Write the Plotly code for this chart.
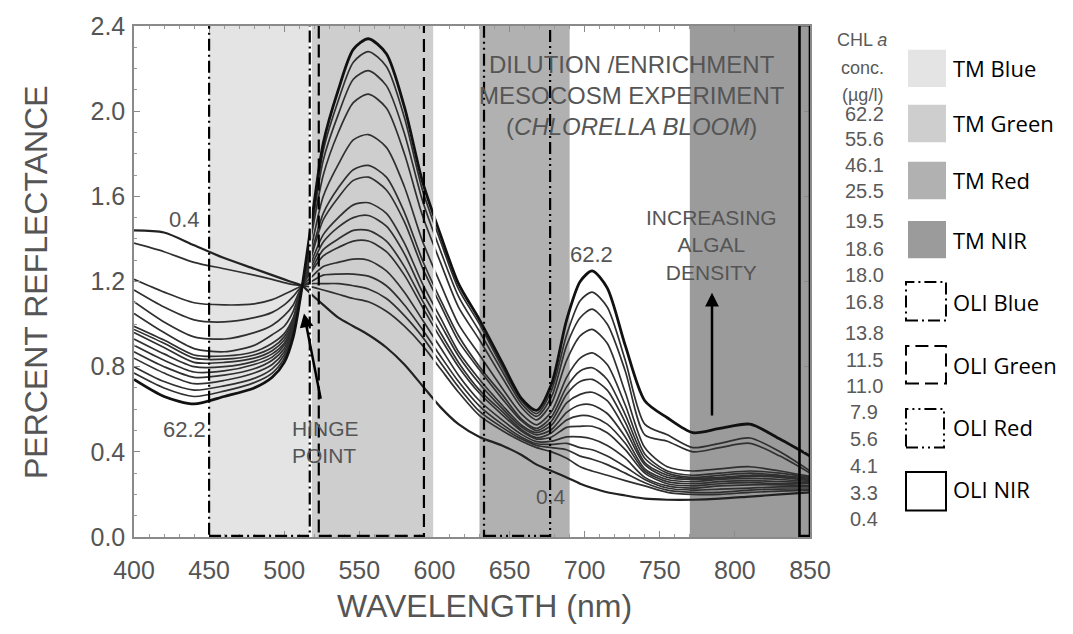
import plotly.graph_objects as go

# ---------------- DATA ----------------
WAVELENGTH_NM = [400, 420, 440, 460, 480, 492, 500, 506, 512, 518, 526, 536, 546, 556,
                 568, 580, 592, 604, 616, 630, 645, 658, 668, 678, 688, 697, 705, 715,
                 727, 740, 755, 772, 790, 810, 830, 850]

CHL_CONC = ["62.2", "55.6", "46.1", "25.5", "19.5", "18.6", "18.0", "16.8",
            "13.8", "11.5", "11.0", "7.9", "5.6", "4.1", "3.3", "0.4"]

R_62_2 = [0.74, 0.66, 0.625, 0.66, 0.70, 0.75, 0.82, 0.94, 1.18, 1.47, 1.85, 2.10, 2.29, 2.34,
          2.27, 2.02, 1.67, 1.42, 1.19, 1.02, 0.82, 0.65, 0.595, 0.72, 1.02, 1.20, 1.25, 1.17,
          0.90, 0.64, 0.56, 0.49, 0.51, 0.53, 0.46, 0.38]
R_55_6 = [0.77, 0.70, 0.66, 0.685, 0.725, 0.77, 0.84, 0.955, 1.18, 1.455, 1.815, 2.05, 2.23, 2.28,
          2.21, 1.97, 1.63, 1.39, 1.165, 1.00, 0.80, 0.64, 0.58, 0.69, 0.95, 1.11, 1.15, 1.08,
          0.83, 0.53, 0.48, 0.42, 0.44, 0.465, 0.40, 0.31]
R_46_1 = [0.80, 0.73, 0.69, 0.71, 0.745, 0.79, 0.855, 0.965, 1.18, 1.435, 1.77, 1.985, 2.15, 2.19,
          2.12, 1.895, 1.58, 1.345, 1.13, 0.965, 0.78, 0.626, 0.567, 0.66, 0.90, 1.03, 1.07, 1.00,
          0.78, 0.48, 0.45, 0.40, 0.42, 0.44, 0.38, 0.30]
R_25_5 = [0.84, 0.77, 0.72, 0.735, 0.77, 0.81, 0.87, 0.975, 1.18, 1.41, 1.70, 1.90, 2.04, 2.08,
          2.015, 1.80, 1.51, 1.29, 1.08, 0.925, 0.75, 0.608, 0.55, 0.63, 0.83, 0.945, 0.975, 0.91,
          0.68, 0.42, 0.33, 0.31, 0.32, 0.33, 0.31, 0.285]
R_19_5 = [0.87, 0.80, 0.75, 0.76, 0.79, 0.83, 0.885, 0.985, 1.18, 1.36, 1.60, 1.75, 1.865, 1.89,
          1.83, 1.645, 1.39, 1.19, 1.00, 0.855, 0.70, 0.577, 0.527, 0.59, 0.75, 0.84, 0.865, 0.81,
          0.62, 0.39, 0.31, 0.29, 0.30, 0.31, 0.30, 0.28]
R_18_6 = [0.90, 0.83, 0.775, 0.78, 0.81, 0.845, 0.90, 0.995, 1.18, 1.33, 1.52, 1.64, 1.725, 1.745,
          1.69, 1.525, 1.30, 1.115, 0.945, 0.80, 0.67, 0.554, 0.51, 0.565, 0.705, 0.78, 0.795, 0.74,
          0.575, 0.37, 0.30, 0.28, 0.29, 0.30, 0.29, 0.275]
R_18_0 = [0.93, 0.86, 0.80, 0.80, 0.825, 0.86, 0.91, 1.00, 1.18, 1.315, 1.49, 1.595, 1.675, 1.69,
          1.63, 1.48, 1.265, 1.09, 0.92, 0.785, 0.65, 0.545, 0.50, 0.545, 0.67, 0.73, 0.74, 0.69,
          0.54, 0.35, 0.29, 0.275, 0.28, 0.29, 0.285, 0.27]
R_16_8 = [0.96, 0.89, 0.82, 0.82, 0.84, 0.875, 0.925, 1.01, 1.18, 1.29, 1.42, 1.50, 1.56, 1.57,
          1.52, 1.38, 1.19, 1.03, 0.87, 0.74, 0.62, 0.525, 0.49, 0.525, 0.63, 0.67, 0.68, 0.64,
          0.505, 0.34, 0.28, 0.27, 0.275, 0.285, 0.28, 0.265]
R_13_8 = [0.975, 0.91, 0.84, 0.835, 0.855, 0.89, 0.94, 1.02, 1.18, 1.27, 1.385, 1.455, 1.50, 1.51,
          1.46, 1.33, 1.15, 1.00, 0.85, 0.72, 0.605, 0.516, 0.48, 0.505, 0.585, 0.62, 0.62, 0.58,
          0.47, 0.32, 0.27, 0.26, 0.27, 0.275, 0.27, 0.26]
R_11_5 = [0.99, 0.925, 0.855, 0.85, 0.87, 0.91, 0.955, 1.03, 1.18, 1.255, 1.35, 1.40, 1.44, 1.44,
          1.39, 1.27, 1.11, 0.96, 0.82, 0.69, 0.59, 0.504, 0.467, 0.49, 0.55, 0.57, 0.565, 0.53,
          0.44, 0.31, 0.26, 0.25, 0.26, 0.265, 0.26, 0.255]
R_11_0 = [1.05, 0.96, 0.885, 0.87, 0.90, 0.95, 0.99, 1.06, 1.18, 1.245, 1.32, 1.36, 1.39, 1.39,
          1.34, 1.23, 1.08, 0.935, 0.80, 0.675, 0.575, 0.496, 0.46, 0.47, 0.515, 0.52, 0.52, 0.49,
          0.41, 0.30, 0.25, 0.24, 0.25, 0.255, 0.25, 0.25]
R_7_9 = [1.105, 1.01, 0.94, 0.93, 0.96, 0.995, 1.04, 1.09, 1.18, 1.22, 1.27, 1.29, 1.305, 1.30,
         1.25, 1.15, 1.02, 0.89, 0.76, 0.64, 0.55, 0.482, 0.448, 0.45, 0.47, 0.47, 0.46, 0.43,
         0.37, 0.28, 0.24, 0.23, 0.24, 0.245, 0.245, 0.24]
R_5_6 = [1.16, 1.08, 1.02, 1.01, 1.03, 1.055, 1.09, 1.13, 1.18, 1.20, 1.23, 1.235, 1.235, 1.225,
         1.18, 1.09, 0.975, 0.85, 0.73, 0.615, 0.53, 0.469, 0.438, 0.435, 0.44, 0.42, 0.41, 0.38,
         0.33, 0.27, 0.23, 0.22, 0.225, 0.23, 0.235, 0.235]
R_4_1 = [1.21, 1.15, 1.10, 1.09, 1.095, 1.115, 1.14, 1.16, 1.18, 1.19, 1.19, 1.19, 1.18, 1.165,
         1.12, 1.04, 0.94, 0.82, 0.705, 0.59, 0.515, 0.46, 0.43, 0.42, 0.41, 0.38, 0.365, 0.34,
         0.30, 0.255, 0.22, 0.21, 0.21, 0.22, 0.225, 0.225]
R_3_3 = [1.38, 1.34, 1.29, 1.26, 1.23, 1.21, 1.195, 1.185, 1.18, 1.175, 1.16, 1.14, 1.12, 1.105,
         1.06, 0.99, 0.90, 0.79, 0.68, 0.57, 0.50, 0.45, 0.42, 0.40, 0.37, 0.33, 0.31, 0.29,
         0.265, 0.24, 0.21, 0.20, 0.20, 0.21, 0.215, 0.22]
R_0_4 = [1.44, 1.43, 1.37, 1.31, 1.26, 1.23, 1.21, 1.195, 1.18, 1.14, 1.09, 1.03, 0.99, 0.95,
         0.89, 0.81, 0.71, 0.61, 0.53, 0.47, 0.43, 0.385, 0.34, 0.31, 0.28, 0.25, 0.23, 0.21,
         0.195, 0.18, 0.175, 0.175, 0.18, 0.19, 0.20, 0.21]

SERIES = [R_62_2, R_55_6, R_46_1, R_25_5, R_19_5, R_18_6, R_18_0, R_16_8,
          R_13_8, R_11_5, R_11_0, R_7_9, R_5_6, R_4_1, R_3_3, R_0_4]

# Satellite band edges (nm)
TM_BAND_NAMES = ["TM Blue", "TM Green", "TM Red", "TM NIR"]
TM_BAND_START = [450, 518, 630, 770]
TM_BAND_END = [516.5, 600, 690, 850]
OLI_BAND_NAMES = ["OLI Blue", "OLI Green", "OLI Red", "OLI NIR"]
OLI_BAND_START = [450, 523, 633, 843]
OLI_BAND_END = [517, 593, 677, 850]

X_TICKS = [400, 450, 500, 550, 600, 650, 700, 750, 800, 850]
Y_TICKS = [0.0, 0.4, 0.8, 1.2, 1.6, 2.0, 2.4]

# ---------------- STYLE / LAYOUT ----------------
W, H = 1073, 634
PL, PR, PT, PB = 134, 810, 18, 537  # plot area in pixels
TM_COLORS = ["#e4e4e4", "#cecece", "#b1b1b1", "#9b9b9b"]
OLI_DASH = ["12px,4px,2px,4px", "13px,6px", "12px,4px,2px,4px,2px,4px", "solid"]
TEXT_GRAY = "#555555"
AXFONT = "Liberation Sans, Arial, sans-serif"


def px2px(x):
    return (x - PL) / (PR - PL)


def py2py(y):
    return (PB - y) / (PB - PT)


def px2nm(x):
    return 400 + (x - PL) / (PR - PL) * 450


def py2val(y):
    return (PB - y) / (PB - PT) * 2.4


fig = go.Figure()

# curves (thin first, bold 62.2 last)
order = list(range(1, len(SERIES))) + [0]
for i in order:
    width = 1.7
    color = "#303030"
    if i == 0:
        width, color = 2.8, "#111111"
    elif i == len(SERIES) - 1:
        width, color = 2.2, "#222222"
    fig.add_trace(go.Scatter(
        x=WAVELENGTH_NM, y=SERIES[i], mode="lines", name=CHL_CONC[i],
        line=dict(color=color, width=width, shape="spline", smoothing=0.75),
        showlegend=False, hoverinfo="skip"))

shapes = []
for name, x0, x1, col in zip(TM_BAND_NAMES, TM_BAND_START, TM_BAND_END, TM_COLORS):
    shapes.append(dict(type="rect", xref="x", yref="y", x0=x0, x1=x1, y0=0, y1=2.4,
                       fillcolor=col, line=dict(width=0), layer="below"))
# white separation lines visible in the original
for xv in [517.5, 600]:
    shapes.append(dict(type="line", xref="x", yref="y", x0=xv, x1=xv, y0=0, y1=2.4,
                       line=dict(color="white", width=2.5), layer="above"))
for name, x0, x1, dash in zip(OLI_BAND_NAMES, OLI_BAND_START, OLI_BAND_END, OLI_DASH):
    shapes.append(dict(type="rect", xref="x", yref="y", x0=x0, x1=x1, y0=0.005, y1=2.405,
                       line=dict(color="black", width=2.6 if dash == "solid" else 2.2, dash=dash),
                       fillcolor="rgba(0,0,0,0)", layer="above"))

# legend swatches (pixel boxes on the right)
LEG_TM_BOX = [(908, 42, 946, 80), (908, 98, 946, 136), (908, 156, 946, 194), (908, 216, 946, 254)]
LEG_OLI_BOX = [(906, 278, 946, 317), (906, 343, 946, 381), (906, 407, 944, 446), (906, 471, 946, 510)]
for (x0, y0, x1, y1), col in zip(LEG_TM_BOX, TM_COLORS):
    shapes.append(dict(type="rect", xref="paper", yref="paper", x0=px2px(x0), x1=px2px(x1),
                       y0=py2py(y1), y1=py2py(y0), fillcolor=col, line=dict(width=0)))
for (x0, y0, x1, y1), dash in zip(LEG_OLI_BOX, OLI_DASH):
    shapes.append(dict(type="rect", xref="paper", yref="paper", x0=px2px(x0), x1=px2px(x1),
                       y0=py2py(y1), y1=py2py(y0), fillcolor="rgba(0,0,0,0)",
                       line=dict(color="black", width=2, dash=dash)))

annotations = []
LEG_LABEL_Y = [61, 117, 174, 235, 298, 362, 425, 488]
for name, yy in zip(TM_BAND_NAMES + OLI_BAND_NAMES, LEG_LABEL_Y):
    annotations.append(dict(xref="paper", yref="paper", x=px2px(951), y=py2py(yy), text=name,
                            showarrow=False, xanchor="left", yanchor="middle",
                            font=dict(family="Open Sans", size=22, color="black")))

# CHL a concentration column
CHL_HEAD = ["CHL <i>a</i>", "conc.", "(µg/l)"]
CHL_HEAD_Y = [32, 61, 88]
for t, yy in zip(CHL_HEAD, CHL_HEAD_Y):
    annotations.append(dict(xref="paper", yref="paper", x=px2px(862), y=py2py(yy), text=t,
                            showarrow=False, xanchor="center", yanchor="middle",
                            font=dict(family=AXFONT, size=18, color="#5a5a5a")))
CHL_LABEL_Y = [107, 133, 159, 186, 216, 244, 271, 298, 330, 357, 384, 410, 437, 465, 492, 519]
for t, yy in zip(CHL_CONC, CHL_LABEL_Y):
    annotations.append(dict(xref="paper", yref="paper", x=px2px(864), y=py2py(yy), text=t,
                            showarrow=False, xanchor="center", yanchor="middle",
                            font=dict(family=AXFONT, size=20, color="#5a5a5a")))

# axis titles
annotations.append(dict(xref="paper", yref="paper", x=px2px(484), y=py2py(607),
                        text="WAVELENGTH (nm)", showarrow=False, xanchor="center", yanchor="middle",
                        font=dict(family=AXFONT, size=32, color=TEXT_GRAY)))
annotations.append(dict(xref="paper", yref="paper", x=px2px(36), y=py2py(278),
                        text="PERCENT REFLECTANCE", showarrow=False, textangle=-90,
                        xanchor="center", yanchor="middle",
                        font=dict(family=AXFONT, size=32, color=TEXT_GRAY)))

# in-plot texts
def add_text(xp, yp, text, size, align="center"):
    annotations.append(dict(xref="x", yref="y", x=px2nm(xp), y=py2val(yp), text=text,
                            showarrow=False, xanchor="center", yanchor="middle", align=align,
                            font=dict(family=AXFONT, size=size, color=TEXT_GRAY)))

add_text(184, 215, "0.4", 22)
add_text(184, 428, "62.2", 22)
add_text(325, 440, "HINGE<br>POINT", 21, align="left")
add_text(632, 89, "DILUTION /ENRICHMENT<br>MESOCOSM EXPERIMENT<br>(<i>CHLORELLA BLOOM</i>)", 24)
add_text(591, 250, "62.2", 22)
add_text(711, 240, "INCREASING<br>ALGAL<br>DENSITY", 21)
add_text(551, 496, "0.4", 21)

# arrows
annotations.append(dict(xref="x", yref="y", axref="x", ayref="y",
                        x=px2nm(304), y=py2val(310), ax=px2nm(321), ay=py2val(398),
                        text="", showarrow=True, arrowhead=2, arrowsize=1.1, arrowwidth=2.5,
                        arrowcolor="black"))
annotations.append(dict(xref="x", yref="y", axref="x", ayref="y",
                        x=px2nm(712), y=py2val(289), ax=px2nm(712), ay=py2val(415),
                        text="", showarrow=True, arrowhead=2, arrowsize=1.1, arrowwidth=2.5,
                        arrowcolor="black"))

axis_common = dict(showgrid=False, zeroline=False, showline=True, linecolor="#8a8a8a",
                   linewidth=1.5, mirror="allticks", ticks="inside", ticklen=6,
                   tickcolor="#8a8a8a", tickwidth=1,
                   tickfont=dict(family=AXFONT, size=25, color=TEXT_GRAY))

fig.update_layout(
    width=W, height=H,
    margin=dict(l=PL, r=W - PR, t=PT, b=H - PB),
    paper_bgcolor="white", plot_bgcolor="white",
    xaxis=dict(range=[400, 850], tickvals=X_TICKS, ticklabelstandoff=10,
               minor=dict(dtick=10, ticks="inside", ticklen=3, tickcolor="#9a9a9a"),
               **axis_common),
    yaxis=dict(range=[0, 2.4], tickvals=Y_TICKS, tickformat=".1f", ticklabelstandoff=2,
               minor=dict(dtick=0.1, ticks="inside", ticklen=3, tickcolor="#9a9a9a"),
               **axis_common),
    shapes=shapes, annotations=annotations,
)

fig.write_html("out.html")
